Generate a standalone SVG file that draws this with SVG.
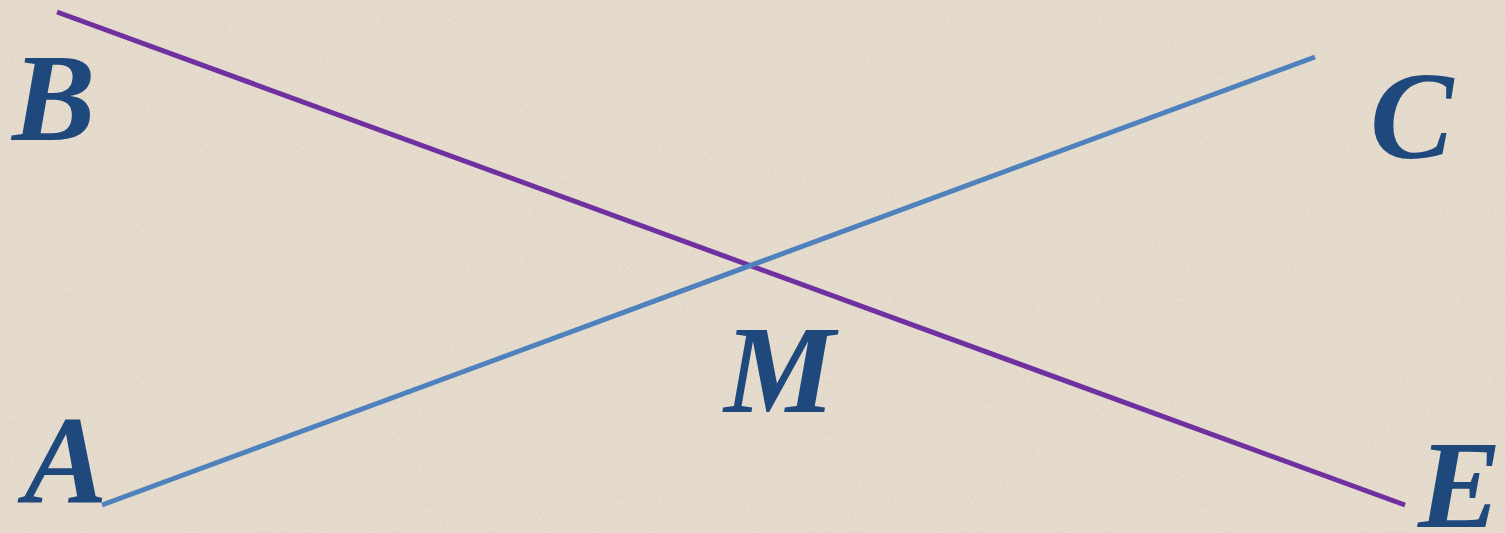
<svg xmlns="http://www.w3.org/2000/svg" width="1505" height="533" viewBox="0 0 1505 533">
<style>
.lbl{font-family:"Liberation Serif","Times New Roman",serif;font-weight:bold;font-style:italic;font-size:125px;fill:#1F497D}
.ln{stroke-width:5;stroke-linecap:butt;fill:none}
</style>
<defs>
<filter id="noise" x="0" y="0" width="100%" height="100%">
<feTurbulence type="fractalNoise" baseFrequency="0.9" numOctaves="2" seed="3" result="t"/>
<feColorMatrix type="matrix" values="0 0 0 0 0.55  0 0 0 0 0.5  0 0 0 0 0.42  0 0 0 -2.2 1.25"/>
</filter>
</defs>
<rect width="1505" height="533" fill="#E6DDCF"/>
<rect width="1505" height="533" filter="url(#noise)" opacity="0.35"/>
<g id="connectors">
<line class="ln" x1="57" y1="12" x2="1405" y2="505" stroke="#7030A0"/>
<line class="ln" x1="102" y1="505" x2="1315" y2="57" stroke="#4F81BD"/>
</g>
<g id="B"><text class="lbl" x="12" y="140">B</text></g>
<g id="C"><text class="lbl" x="1370" y="158">C</text></g>
<g id="M"><text class="lbl" x="724" y="412">M</text></g>
<g id="A"><text class="lbl" x="24" y="502">A</text></g>
<g id="E"><text class="lbl" x="1418" y="527">E</text></g>
</svg>
